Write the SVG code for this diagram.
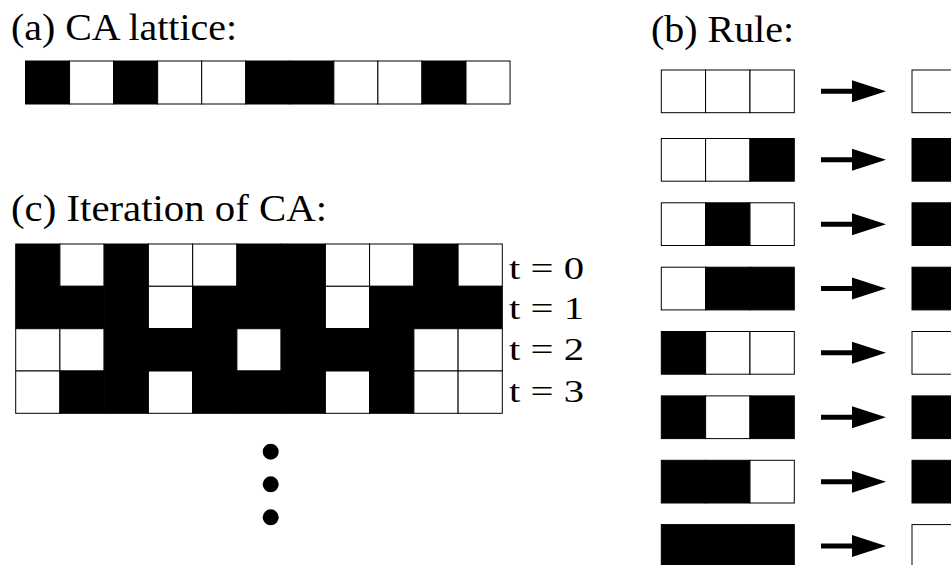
<svg xmlns="http://www.w3.org/2000/svg" width="951" height="565" viewBox="0 0 951 565">
<style>
.w{fill:#fff;stroke:#000;stroke-width:1}
.b{fill:#000;stroke:#000;stroke-width:1}
.lbl{font-family:"Liberation Serif","Times New Roman",serif;font-size:38px;fill:#000}
.t{font-family:"Liberation Serif","Times New Roman",serif;font-size:32px;fill:#000}
.dot{fill:#000}
</style>
<defs>
<path id="arr" d="M0,-2.5H31V-11L65,0L31,11V2.5H0Z" fill="#000"/>
</defs>
<rect width="951" height="565" fill="#fff"/>
<g id="label-a"><text class="lbl" x="11" y="39.5" textLength="226" lengthAdjust="spacingAndGlyphs">(a) CA lattice:</text></g>
<g id="label-b"><text class="lbl" x="651" y="41.5" textLength="143" lengthAdjust="spacingAndGlyphs">(b) Rule:</text></g>
<g id="label-c"><text class="lbl" x="11" y="220.5" textLength="316" lengthAdjust="spacingAndGlyphs">(c) Iteration of CA:</text></g>
<g id="lattice">
<rect class="b" x="25.5" y="61" width="44.05" height="43"/>
<rect class="w" x="69.55" y="61" width="44.05" height="43"/>
<rect class="b" x="113.6" y="61" width="44.05" height="43"/>
<rect class="w" x="157.65" y="61" width="44.05" height="43"/>
<rect class="w" x="201.7" y="61" width="44.05" height="43"/>
<rect class="b" x="245.75" y="61" width="44.05" height="43"/>
<rect class="b" x="289.8" y="61" width="44.05" height="43"/>
<rect class="w" x="333.85" y="61" width="44.05" height="43"/>
<rect class="w" x="377.9" y="61" width="44.05" height="43"/>
<rect class="b" x="421.95" y="61" width="44.05" height="43"/>
<rect class="w" x="466" y="61" width="44.05" height="43"/>
</g>
<g id="iteration">
<rect class="b" x="15.7" y="244" width="44.2" height="42.3"/>
<rect class="w" x="59.9" y="244" width="44.2" height="42.3"/>
<rect class="b" x="104.2" y="244" width="44.2" height="42.3"/>
<rect class="w" x="148.4" y="244" width="44.2" height="42.3"/>
<rect class="w" x="192.7" y="244" width="44.2" height="42.3"/>
<rect class="b" x="236.9" y="244" width="44.2" height="42.3"/>
<rect class="b" x="281.1" y="244" width="44.2" height="42.3"/>
<rect class="w" x="325.4" y="244" width="44.2" height="42.3"/>
<rect class="w" x="369.6" y="244" width="44.2" height="42.3"/>
<rect class="b" x="413.9" y="244" width="44.2" height="42.3"/>
<rect class="w" x="458.1" y="244" width="44.2" height="42.3"/>

<rect class="b" x="15.7" y="286.3" width="44.2" height="42.3"/>
<rect class="b" x="59.9" y="286.3" width="44.2" height="42.3"/>
<rect class="b" x="104.2" y="286.3" width="44.2" height="42.3"/>
<rect class="w" x="148.4" y="286.3" width="44.2" height="42.3"/>
<rect class="b" x="192.7" y="286.3" width="44.2" height="42.3"/>
<rect class="b" x="236.9" y="286.3" width="44.2" height="42.3"/>
<rect class="b" x="281.1" y="286.3" width="44.2" height="42.3"/>
<rect class="w" x="325.4" y="286.3" width="44.2" height="42.3"/>
<rect class="b" x="369.6" y="286.3" width="44.2" height="42.3"/>
<rect class="b" x="413.9" y="286.3" width="44.2" height="42.3"/>
<rect class="b" x="458.1" y="286.3" width="44.2" height="42.3"/>

<rect class="w" x="15.7" y="328.7" width="44.2" height="42.3"/>
<rect class="w" x="59.9" y="328.7" width="44.2" height="42.3"/>
<rect class="b" x="104.2" y="328.7" width="44.2" height="42.3"/>
<rect class="b" x="148.4" y="328.7" width="44.2" height="42.3"/>
<rect class="b" x="192.7" y="328.7" width="44.2" height="42.3"/>
<rect class="w" x="236.9" y="328.7" width="44.2" height="42.3"/>
<rect class="b" x="281.1" y="328.7" width="44.2" height="42.3"/>
<rect class="b" x="325.4" y="328.7" width="44.2" height="42.3"/>
<rect class="b" x="369.6" y="328.7" width="44.2" height="42.3"/>
<rect class="w" x="413.9" y="328.7" width="44.2" height="42.3"/>
<rect class="w" x="458.1" y="328.7" width="44.2" height="42.3"/>

<rect class="w" x="15.7" y="371" width="44.2" height="42.3"/>
<rect class="b" x="59.9" y="371" width="44.2" height="42.3"/>
<rect class="b" x="104.2" y="371" width="44.2" height="42.3"/>
<rect class="w" x="148.4" y="371" width="44.2" height="42.3"/>
<rect class="b" x="192.7" y="371" width="44.2" height="42.3"/>
<rect class="b" x="236.9" y="371" width="44.2" height="42.3"/>
<rect class="b" x="281.1" y="371" width="44.2" height="42.3"/>
<rect class="w" x="325.4" y="371" width="44.2" height="42.3"/>
<rect class="b" x="369.6" y="371" width="44.2" height="42.3"/>
<rect class="w" x="413.9" y="371" width="44.2" height="42.3"/>
<rect class="w" x="458.1" y="371" width="44.2" height="42.3"/>
</g>
<g id="time-labels">
<text class="t" x="509" y="278.5" textLength="75" lengthAdjust="spacingAndGlyphs">t = 0</text>
<text class="t" x="509" y="318.5" textLength="75" lengthAdjust="spacingAndGlyphs">t = 1</text>
<text class="t" x="509" y="360.2" textLength="75" lengthAdjust="spacingAndGlyphs">t = 2</text>
<text class="t" x="509" y="401.8" textLength="75" lengthAdjust="spacingAndGlyphs">t = 3</text>
</g>
<g id="ellipsis">
<circle class="dot" cx="270.7" cy="451.7" r="8"/>
<circle class="dot" cx="270.7" cy="484.3" r="8"/>
<circle class="dot" cx="270.7" cy="517.3" r="8"/>
</g>
<g id="rule-000">
<rect class="w" x="661.3" y="70" width="44.3" height="42.7"/>
<rect class="w" x="705.6" y="70" width="44.3" height="42.7"/>
<rect class="w" x="750" y="70" width="44.3" height="42.7"/>
<rect class="w" x="912" y="70" width="44.3" height="42.7"/>
</g>
<g id="rule-001">
<rect class="w" x="661.3" y="138.5" width="44.3" height="42.7"/>
<rect class="w" x="705.6" y="138.5" width="44.3" height="42.7"/>
<rect class="b" x="750" y="138.5" width="44.3" height="42.7"/>
<rect class="b" x="912" y="138.5" width="44.3" height="42.7"/>
</g>
<g id="rule-010">
<rect class="w" x="661.3" y="202.8" width="44.3" height="42.7"/>
<rect class="b" x="705.6" y="202.8" width="44.3" height="42.7"/>
<rect class="w" x="750" y="202.8" width="44.3" height="42.7"/>
<rect class="b" x="912" y="202.8" width="44.3" height="42.7"/>
</g>
<g id="rule-011">
<rect class="w" x="661.3" y="267.2" width="44.3" height="42.7"/>
<rect class="b" x="705.6" y="267.2" width="44.3" height="42.7"/>
<rect class="b" x="750" y="267.2" width="44.3" height="42.7"/>
<rect class="b" x="912" y="267.2" width="44.3" height="42.7"/>
</g>
<g id="rule-100">
<rect class="b" x="661.3" y="331.5" width="44.3" height="42.7"/>
<rect class="w" x="705.6" y="331.5" width="44.3" height="42.7"/>
<rect class="w" x="750" y="331.5" width="44.3" height="42.7"/>
<rect class="w" x="912" y="331.5" width="44.3" height="42.7"/>
</g>
<g id="rule-101">
<rect class="b" x="661.3" y="395.9" width="44.3" height="42.7"/>
<rect class="w" x="705.6" y="395.9" width="44.3" height="42.7"/>
<rect class="b" x="750" y="395.9" width="44.3" height="42.7"/>
<rect class="b" x="912" y="395.9" width="44.3" height="42.7"/>
</g>
<g id="rule-110">
<rect class="b" x="661.3" y="460.3" width="44.3" height="42.7"/>
<rect class="b" x="705.6" y="460.3" width="44.3" height="42.7"/>
<rect class="w" x="750" y="460.3" width="44.3" height="42.7"/>
<rect class="b" x="912" y="460.3" width="44.3" height="42.7"/>
</g>
<g id="rule-111">
<rect class="b" x="661.3" y="524.6" width="44.3" height="42.7"/>
<rect class="b" x="705.6" y="524.6" width="44.3" height="42.7"/>
<rect class="b" x="750" y="524.6" width="44.3" height="42.7"/>
<rect class="w" x="912" y="524.6" width="44.3" height="42.7"/>
</g>
<g id="connectors">
<use href="#arr" x="821" y="91.35"/>
<use href="#arr" x="821" y="159.85"/>
<use href="#arr" x="821" y="224.15"/>
<use href="#arr" x="821" y="288.55"/>
<use href="#arr" x="821" y="352.85"/>
<use href="#arr" x="821" y="417.25"/>
<use href="#arr" x="821" y="481.65"/>
<use href="#arr" x="821" y="545.95"/>
</g>
</svg>
